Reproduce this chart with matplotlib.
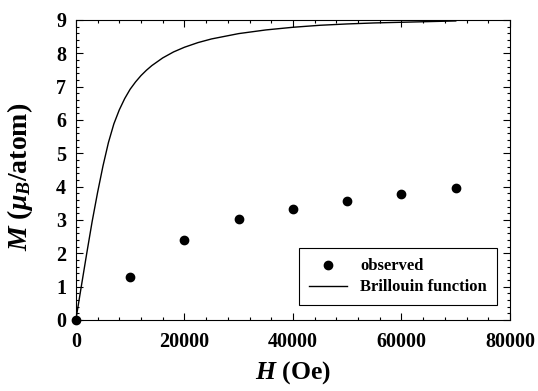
import matplotlib
matplotlib.use("Agg")
import matplotlib.pyplot as plt
from matplotlib.ticker import MultipleLocator

# observed magnetization
H_obs = [0, 10000, 20000, 30000, 40000, 50000, 60000, 70000]
M_obs = [0.0, 1.28, 2.40, 3.02, 3.34, 3.58, 3.78, 3.97]

# Brillouin function curve
H_bri = [0, 1000, 2000, 3000, 4000, 5000, 6000, 7000, 8000, 9000, 10000,
         11000, 12000, 13000, 14000, 16000, 18000, 20000, 22500, 25000,
         30000, 35000, 40000, 45000, 50000, 55000, 60000, 65000, 70000]
M_bri = [0.0, 1.0, 1.99, 2.95, 3.82, 4.62, 5.32, 5.88, 6.30, 6.64, 6.92,
         7.14, 7.33, 7.49, 7.63, 7.86, 8.04, 8.18, 8.32, 8.43,
         8.59, 8.70, 8.78, 8.84, 8.88, 8.91, 8.93, 8.95, 8.97]

plt.rcParams['font.family'] = 'Liberation Serif'
plt.rcParams['font.weight'] = 'bold'
plt.rcParams['axes.labelweight'] = 'bold'
plt.rcParams['mathtext.fontset'] = 'custom'
plt.rcParams['mathtext.it'] = 'Liberation Serif:italic:bold'
plt.rcParams['mathtext.rm'] = 'Liberation Serif:bold'
plt.rcParams['mathtext.bf'] = 'Liberation Serif:bold'

fig = plt.figure(figsize=(5.38, 3.91), dpi=100)
ax = fig.add_axes([0.141, 0.182, 0.807, 0.767])

ax.plot(H_obs, M_obs, 'o', color='black', ms=6, label='observed', clip_on=False, zorder=3)
ax.plot(H_bri, M_bri, '-', color='black', lw=1.0, label='Brillouin function')

ax.set_xlim(0, 80000)
ax.set_ylim(0, 9)
ax.xaxis.set_major_locator(MultipleLocator(20000))
ax.xaxis.set_minor_locator(MultipleLocator(4000))
ax.yaxis.set_major_locator(MultipleLocator(1))
ax.yaxis.set_minor_locator(MultipleLocator(0.2))
ax.tick_params(which='both', direction='in', top=True, right=True, labelsize=14.5, width=0.8)
ax.tick_params(which='major', length=5)
ax.tick_params(axis='x', which='major', pad=9)
ax.tick_params(axis='y', which='major', pad=7)
ax.tick_params(which='minor', length=2.5)
for s in ax.spines.values():
    s.set_linewidth(0.8)

ax.set_xlabel(r'$H$ (Oe)', fontsize=18.5, labelpad=5)
ax.set_ylabel(r'$M$ ($\mu_B$/atom)', fontsize=20)
ax.yaxis.set_label_coords(-0.094, 0.478)

leg = ax.legend(loc='lower right', bbox_to_anchor=(0.970, 0.048), fontsize=12,
                frameon=True, fancybox=False, edgecolor='black', framealpha=1,
                handlelength=2.3, borderpad=0.6, labelspacing=0.3, borderaxespad=0)
leg.get_frame().set_linewidth(0.8)

fig.savefig("out.png", dpi=100)
